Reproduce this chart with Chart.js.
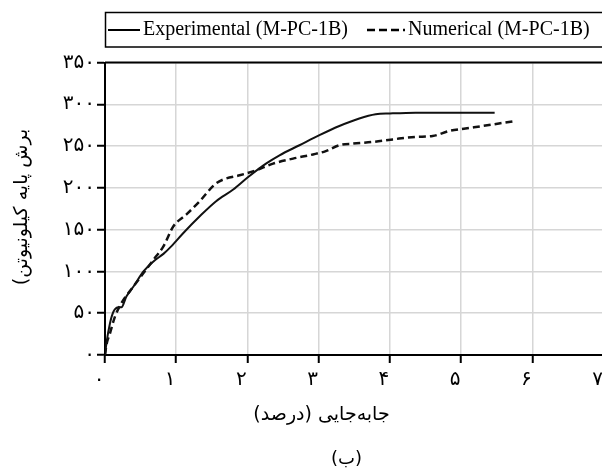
<!DOCTYPE html>
<html>
<head>
<meta charset="utf-8">
<script src="https://cdn.jsdelivr.net/npm/chart.js@4.4.1/dist/chart.umd.min.js"></script>
<style>
html,body{margin:0;padding:0;overflow:hidden;background:#fff;width:602px;height:469px;}
canvas{display:block;}
</style>
</head>
<body>
<canvas id="c" width="614" height="469"></canvas>
<script>
const xTickLabels = ['۰','۱','۲','۳','۴','۵','۶','۷'];
const yTickLabels = ['۰','۵۰','۱۰۰','۱۵۰','۲۰۰','۲۵۰','۳۰۰','۳۵۰'];
const legendLabels = ['Experimental (M-PC-1B)', 'Numerical (M-PC-1B)'];
const xTitle = 'جابه‌جایی (درصد)';
const yTitle = 'برش پایه کیلونیوتن)';
const caption = '(ب)';

const expX = [0, 0.02, 0.07, 0.12, 0.19, 0.23, 0.30, 0.40, 0.54, 0.68, 0.82, 0.93, 1.10, 1.33, 1.56, 1.80, 2.01, 2.26, 2.45, 2.73, 3.01, 3.29, 3.57, 3.80, 4.00, 4.36, 4.99, 5.47];
const expY = [0, 14, 38, 52, 57, 57, 70, 82, 100, 112, 121, 130, 146, 166, 184, 198, 213, 229, 239, 251, 263, 274, 283, 288, 289, 290, 290, 290];
const numX = [0, 0.02, 0.07, 0.14, 0.23, 0.40, 0.54, 0.68, 0.82, 0.96, 1.14, 1.33, 1.54, 1.66, 1.89, 2.12, 2.36, 2.64, 2.92, 3.10, 3.29, 3.48, 3.76, 4.04, 4.36, 4.60, 4.83, 5.06, 5.30, 5.53, 5.76];
const numY = [0, 12, 26, 46, 62, 82, 98, 114, 130, 154, 168, 184, 204, 210, 215, 221, 229, 235, 240, 244, 251, 253, 255, 258, 261, 262, 268, 271, 274, 277, 280];

const toPts = (xs, ys) => xs.map((x, i) => ({x: x, y: ys[i]}));

const ARABIC_FONT = '"DejaVu Sans", sans-serif';

const decor = {
  id: 'decor',
  afterDraw(chart) {
    const ctx = chart.ctx;
    const a = chart.chartArea;
    ctx.save();
    // top border
    ctx.strokeStyle = '#000';
    ctx.lineWidth = 2;
    ctx.beginPath();
    ctx.moveTo(a.left, a.top);
    ctx.lineTo(a.right, a.top);
    ctx.stroke();
    // legend box
    ctx.lineWidth = 1.5;
    ctx.strokeRect(105.5, 12.5, 620, 34.5);
    const ly = 30;
    ctx.lineWidth = 2;
    ctx.beginPath();
    ctx.moveTo(108, ly); ctx.lineTo(140, ly); ctx.stroke();
    ctx.setLineDash([8, 4]);
    ctx.lineWidth = 2.5;
    ctx.beginPath();
    ctx.moveTo(367, ly); ctx.lineTo(405, ly); ctx.stroke();
    ctx.setLineDash([]);
    ctx.fillStyle = '#000';
    ctx.font = '20px "Liberation Serif", serif';
    ctx.textBaseline = 'middle';
    ctx.textAlign = 'left';
    ctx.fillText(legendLabels[0], 143, ly);
    ctx.fillText(legendLabels[1], 408, ly);
    // axis titles
    ctx.direction = 'rtl';
    ctx.textAlign = 'center';
    ctx.font = '19px ' + ARABIC_FONT;
    ctx.fillText(xTitle, 321.5, 415);
    ctx.font = '18px ' + ARABIC_FONT;
    ctx.fillText(caption, 346.5, 459);
    ctx.font = '19px ' + ARABIC_FONT;
    ctx.save();
    ctx.translate(22, 207);
    ctx.rotate(-Math.PI / 2);
    ctx.fillText(yTitle, 0, 0);
    ctx.restore();
    ctx.restore();
  }
};

new Chart(document.getElementById('c'), {
  type: 'scatter',
  data: {
    datasets: [
      {label: legendLabels[0], data: toPts(expX, expY), showLine: true, borderColor: '#111', borderWidth: 2, pointRadius: 0, cubicInterpolationMode: 'monotone'},
      {label: legendLabels[1], data: toPts(numX, numY), showLine: true, borderColor: '#111', borderWidth: 2.5, borderDash: [7, 4], pointRadius: 0, cubicInterpolationMode: 'monotone'}
    ]
  },
  options: {
    responsive: false,
    animation: false,
    devicePixelRatio: 1,
    layout: {padding: {left: 0, top: 62.5, right: 9, bottom: 0}},
    plugins: {legend: {display: false}, tooltip: {enabled: false}},
    scales: {
      x: {
        type: 'linear', min: 0, max: 7,
        ticks: {stepSize: 1, color: '#000', font: {family: ARABIC_FONT, size: 20}, padding: 5, labelOffset: -6,
          callback: (v) => xTickLabels[Math.round(v)]},
        grid: {color: '#d6d6d6', lineWidth: 1.5, tickColor: '#000', tickLength: 8, tickWidth: 2},
        border: {display: true, color: '#000', width: 2},
        afterFit: (s) => { s.height = 114; }
      },
      y: {
        type: 'linear', min: 0, max: 350,
        ticks: {stepSize: 50, color: '#000', font: {family: ARABIC_FONT, size: 20}, padding: 2,
          callback: (v) => yTickLabels[Math.round(v / 50)]},
        grid: {color: '#d6d6d6', lineWidth: 1.5, tickColor: '#000', tickLength: 8, tickWidth: 2},
        border: {display: true, color: '#000', width: 2},
        afterFit: (s) => { s.width = 105; }
      }
    }
  },
  plugins: [decor]
});
</script>
</body>
</html>
